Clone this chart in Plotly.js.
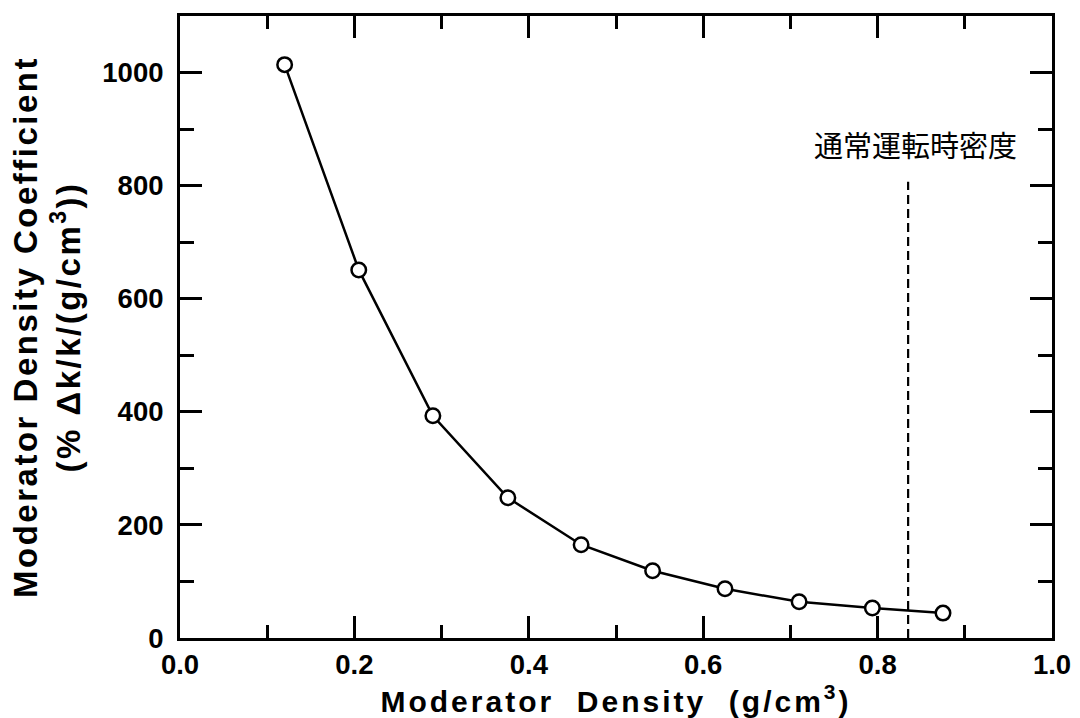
<!DOCTYPE html>
<html>
<head>
<meta charset="utf-8">
<script src="https://cdn.plot.ly/plotly-3.0.1.min.js"></script>
<style>
  html, body { margin: 0; padding: 0; background: #fff; }
  #chart { width: 1080px; height: 718px; }
  .xtitle { letter-spacing: 3px; }
  .ytitle { letter-spacing: 2.5px; }
</style>
</head>
<body>
<div id="chart"></div>
<script>
// Moderator density (g/cm3) and the corresponding density coefficient
const moderatorDensity = [0.120, 0.205, 0.290, 0.376, 0.460, 0.542, 0.625, 0.710, 0.794, 0.875];
const densityCoefficient = [1014, 651, 393, 248, 165, 119, 87, 64, 53, 44];

// Density at normal operating conditions (vertical dashed marker)
const operatingDensity = [0.835, 0.835];
const operatingLineSpan = [0, 807];
const operatingLabel = '通常運転時密度';

const xTickVals = [0.0, 0.2, 0.4, 0.6, 0.8, 1.0];
const xTickText = ['0.0', '0.2', '0.4', '0.6', '0.8', '1.0'];
const yTickVals = [0, 200, 400, 600, 800, 1000];
const yTickText = ['0', '200', '400', '600', '800', '1000'];

const tickFont = { family: 'Liberation Sans, Arial, sans-serif', size: 27.5, color: '#000', weight: 'bold' };

const traces = [
  {
    x: operatingDensity,
    y: operatingLineSpan,
    mode: 'lines',
    line: { color: '#000', width: 2.2, dash: '9px,5px' },
    hoverinfo: 'skip',
    showlegend: false
  },
  {
    x: moderatorDensity,
    y: densityCoefficient,
    mode: 'lines+markers',
    line: { color: '#000', width: 2.5 },
    marker: { symbol: 'circle', size: 14.5, color: '#fff', line: { color: '#000', width: 2.5 } },
    showlegend: false
  }
];

const axisCommon = {
  showline: true,
  linecolor: '#000',
  linewidth: 3,
  mirror: 'allticks',
  ticks: 'inside',
  ticklen: 22,
  tickwidth: 3,
  tickcolor: '#000',
  showgrid: false,
  zeroline: false,
  tickfont: tickFont,
  tickmode: 'array'
};

const layout = {
  width: 1080,
  height: 718,
  margin: { l: 180, r: 28, t: 16, b: 80 },
  paper_bgcolor: '#fff',
  plot_bgcolor: '#fff',
  xaxis: Object.assign({}, axisCommon, {
    range: [0, 1.0],
    tickvals: xTickVals,
    ticktext: xTickText,
    minor: { ticks: 'inside', ticklen: 13, tickwidth: 3, tickcolor: '#000', dtick: 0.1, tick0: 0, showgrid: false },
    title: {
      text: 'Moderator  Density  (g/cm<sup>3</sup>)',
      font: { family: 'Liberation Sans, Arial, sans-serif', size: 30, color: '#000', weight: 'bold' },
      standoff: 6
    }
  }),
  yaxis: Object.assign({}, axisCommon, {
    range: [0, 1100],
    tickvals: yTickVals,
    ticktext: yTickText,
    ticklabelstandoff: 8,
    minor: { ticks: 'inside', ticklen: 14, tickwidth: 3, tickcolor: '#000', dtick: 100, tick0: 0, showgrid: false },
    title: {
      text: 'Moderator Density Coefficient<br>(% Δk/k/(g/cm<sup>3</sup>))',
      font: { family: 'Liberation Sans, Arial, sans-serif', size: 33, color: '#000', weight: 'bold' },
      standoff: 12
    }
  }),
  annotations: [
    {
      x: 0.843, y: 873, xref: 'x', yref: 'y',
      text: operatingLabel,
      showarrow: false,
      font: { family: 'Noto Sans CJK JP, sans-serif', size: 29, color: '#000' },
      xanchor: 'center', yanchor: 'middle'
    }
  ]
};

Plotly.newPlot('chart', traces, layout, { staticPlot: true, displayModeBar: false });
</script>
</body>
</html>
